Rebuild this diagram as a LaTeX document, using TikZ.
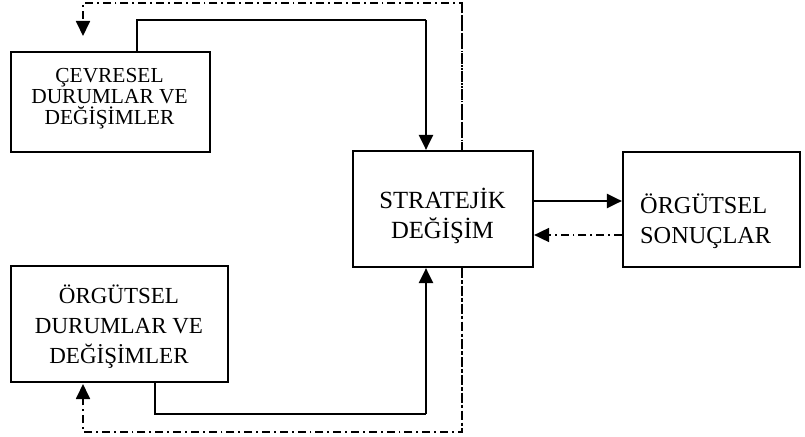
\documentclass[tikz,border=0pt]{standalone}
\usepackage{fontspec}
\setmainfont{Liberation Serif}
\usetikzlibrary{arrows.meta}

\tikzset{
  box/.style={draw, line width=2.2pt, fill=white, inner sep=0pt},
  flow/.style={line width=2.2pt, -{Triangle[length=15pt,width=14pt]}},
  flowline/.style={line width=2.2pt},
  feedback/.style={line width=1.8pt, dash pattern=on 8pt off 4pt on 1.8pt off 4pt},
  feedbackarrow/.style={feedback, -{Triangle[length=15pt,width=14pt]}},
  label/.style={align=center, anchor=base, inner sep=0pt},
}

\begin{document}
\begin{tikzpicture}[x=1pt, y=-1pt]
\useasboundingbox (0,0) rectangle (805,436);

% junction points of the connectors
\coordinate (fbtop) at (462,3);
\coordinate (fbtopleft) at (83,3);
\coordinate (envin) at (83,36);
\coordinate (fbbot) at (462,432);
\coordinate (fbbotleft) at (83,432);
\coordinate (orgin) at (83,384);
\coordinate (envjoin) at (137,20);
\coordinate (topjoin) at (426,20);
\coordinate (orgjoin) at (155,414);
\coordinate (botjoin) at (426,414);
\coordinate (fwd) at (0,201);
\coordinate (back) at (0,235);

% feedback loop runs behind the central box
\draw[feedback] (fbtop) -- (fbbot);

% boxes
\node[box, minimum width=199pt, minimum height=100pt] (env) at (110.5,102) {};
\node[box, minimum width=217pt, minimum height=116pt] (org) at (119.5,324) {};
\node[box, minimum width=180pt, minimum height=116pt] (strat) at (443,209) {};
\node[box, minimum width=177pt, minimum height=115pt] (out) at (711.5,209.5) {};

% box texts (anchored at the baseline of the last line)
\node[label, font=\fontsize{21.4pt}{21pt}\selectfont] (envtext) at (109.5,124)
  {ÇEVRESEL\\DURUMLAR VE\\DEĞİŞİMLER};
\node[label, font=\fontsize{23pt}{30pt}\selectfont] (orgtext) at (119,363)
  {ÖRGÜTSEL\\DURUMLAR VE\\DEĞİŞİMLER};
\node[label, font=\fontsize{24.7pt}{30pt}\selectfont] (strattext) at (442.5,238)
  {STRATEJİK\\DEĞİŞİM};
\node[align=left, anchor=base west, inner sep=0pt, font=\fontsize{24.3pt}{30pt}\selectfont]
  (outtext) at (640,243) {ÖRGÜTSEL\\SONUÇLAR};

% forward influences
\draw[flowline] (env.north -| envjoin) -- (envjoin) -- (topjoin);
\draw[flow] (topjoin) -- (strat.north -| topjoin);
\draw[flowline] (org.south -| orgjoin) -- (orgjoin) -- (botjoin);
\draw[flow] (botjoin) -- (strat.south -| botjoin);
\draw[flow] (strat.east |- fwd) -- (out.west |- fwd);

% feedback
\draw[feedbackarrow] (out.west |- back) -- (strat.east |- back);
\draw[feedbackarrow] (strat.north -| fbtop) -- (fbtop) -- (fbtopleft) -- (envin);
\draw[feedbackarrow] (strat.south -| fbbot) -- (fbbot) -- (fbbotleft) -- (orgin);
\end{tikzpicture}
\end{document}
